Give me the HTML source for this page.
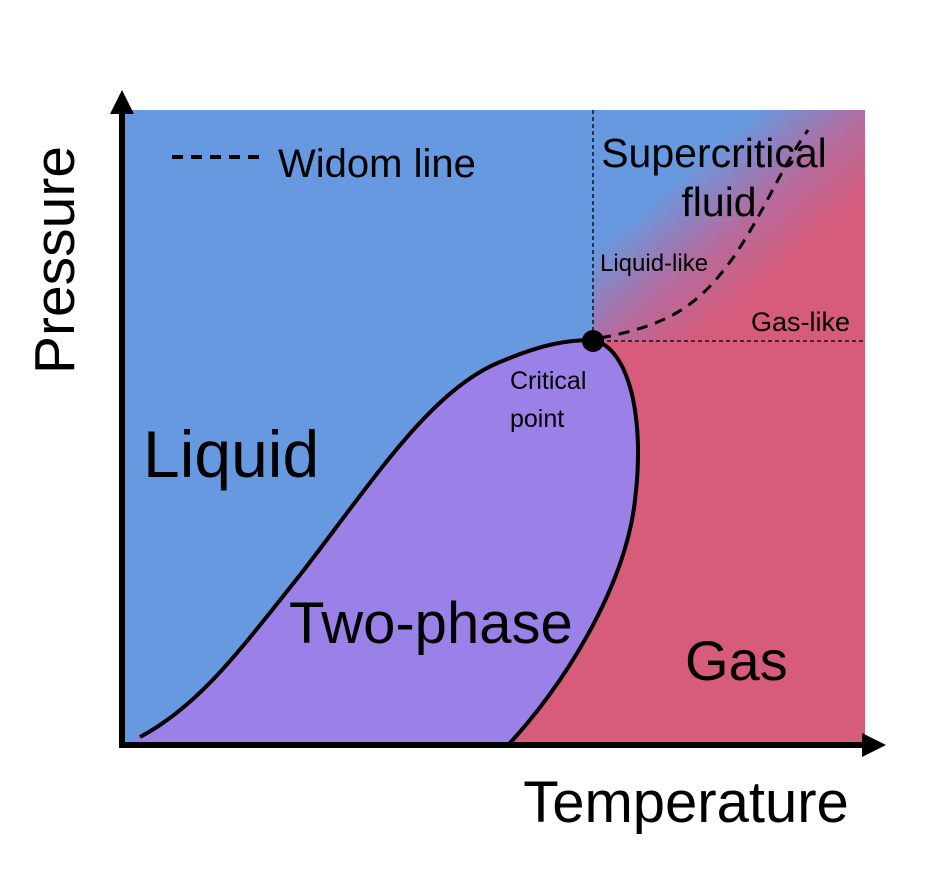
<!DOCTYPE html>
<html><head><meta charset="utf-8"><style>
html,body{margin:0;padding:0;background:#fff;width:948px;height:873px;overflow:hidden}
svg{display:block;font-family:"Liberation Sans",Arial,sans-serif}
</style></head><body>
<svg width="948" height="873" viewBox="0 0 948 873">
<defs>
<linearGradient id="scg" gradientUnits="userSpaceOnUse" x1="680" y1="175" x2="770" y2="280">
<stop offset="0" stop-color="#6699e0"/><stop offset="0.55" stop-color="#b56b9e"/><stop offset="1" stop-color="#d75b7a"/>
</linearGradient>
</defs>
<rect x="125" y="110" width="740" height="635" fill="#6699e0"/>
<path d="M593,340 L865,340 L865,745 L508,745 Z" fill="#d75b7a"/>
<rect x="593" y="110" width="272" height="231" fill="url(#scg)"/>
<path d="M125,745 L140,737 C200,705 240,650 300,575 C370,485 430,390 500,362 C540,345 565,340 593,340 C630,348 645,420 635,500 C625,590 560,690 508,745 Z" fill="#9b80e8"/>
<path d="M140,737 C200,705 240,650 300,575 C370,485 430,390 500,362 C540,345 565,340 593,340 C630,348 645,420 635,500 C625,590 560,690 508,745" fill="none" stroke="#000" stroke-width="4"/>
<line x1="593" y1="110" x2="593" y2="340" stroke="#000" stroke-width="1.3" stroke-dasharray="4,3"/>
<line x1="593" y1="341" x2="865" y2="341" stroke="#000" stroke-width="1.3" stroke-dasharray="4,3"/>
<path d="M600,338 C670,325 700,305 735,255 C765,210 780,170 808,130" fill="none" stroke="#000" stroke-width="3" stroke-dasharray="11,8"/>
<circle cx="593" cy="341" r="11" fill="#000"/>
<line x1="122" y1="108" x2="122" y2="747" stroke="#000" stroke-width="6"/>
<polygon points="122,90 110,114 134,114" fill="#000"/>
<line x1="119" y1="745" x2="868" y2="745" stroke="#000" stroke-width="6"/>
<polygon points="886,745 862,733 862,757" fill="#000"/>
<line x1="172" y1="157" x2="262" y2="157" stroke="#000" stroke-width="4" stroke-dasharray="11,8"/>
<text x="278" y="177" font-size="40">Widom line</text>
<text x="714" y="167" font-size="41" text-anchor="middle">Supercritical</text>
<text x="719" y="216" font-size="41" text-anchor="middle">fluid</text>
<text x="600" y="271" font-size="24">Liquid-like</text>
<text x="751" y="331" font-size="27">Gas-like</text>
<text x="510" y="389" font-size="25">Critical</text>
<text x="510" y="427" font-size="25">point</text>
<text x="143" y="477" font-size="66">Liquid</text>
<text x="289" y="643" font-size="58">Two-phase</text>
<text x="685" y="680" font-size="56">Gas</text>
<text x="686" y="822" font-size="58" text-anchor="middle">Temperature</text>
<text transform="translate(74,260) rotate(-90)" font-size="57" text-anchor="middle">Pressure</text>
</svg>
</body></html>
